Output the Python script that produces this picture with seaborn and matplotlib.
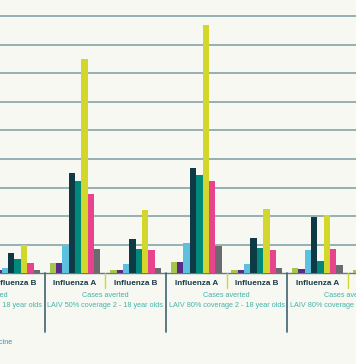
import pandas as pd
import seaborn as sns
import matplotlib.pyplot as plt

# --- data (cases averted in gridline units) ---
slot_flu = ["Influenza B", "Influenza A", "Influenza B", "Influenza A",
            "Influenza B", "Influenza A", "Influenza B"]
scenarios = ["LAIV 30% coverage 2 - 18 year olds",
             "LAIV 50% coverage 2 - 18 year olds",
             "LAIV 80% coverage 2 - 18 year olds",
             "LAIV 80% coverage 2 - 64 year olds"]

series = ["< 2 years", "2 - 4 years", "5 - 10 years", "11 - 18 years",
          "19 - 49 years", "50 - 64 years", "65 - 74 years", "75+ years"]
colours = ["#a6c54b", "#5c2a84", "#5bc1de", "#0d3a45",
           "#00897a", "#d3d72c", "#e8448e", "#6c6971"]

under_2 = [0.10, 0.36, 0.10, 0.38, 0.10, 0.17, 0.10]
age_2_4 = [0.10, 0.36, 0.10, 0.38, 0.10, 0.14, 0.05]
age_5_10 = [0.17, 0.95, 0.31, 1.05, 0.31, 0.80, 0.20]
age_11_18 = [0.70, 3.51, 1.19, 3.67, 1.22, 1.96, 0.50]
age_19_49 = [0.49, 3.22, 0.84, 3.43, 0.87, 0.42, 0.30]
age_50_64 = [0.98, 7.48, 2.20, 8.67, 2.24, 2.03, 0.70]
age_65_74 = [0.35, 2.77, 0.80, 3.22, 0.81, 0.84, 0.30]
age_75 = [0.10, 0.84, 0.17, 0.97, 0.17, 0.28, 0.10]

slots = [str(i) for i in range(len(slot_flu))]
columns = [under_2, age_2_4, age_5_10, age_11_18, age_19_49, age_50_64, age_65_74, age_75]
rows = []
for name, vals in zip(series, columns):
    for s, v in zip(slots, vals):
        rows.append({"slot": s, "group": name, "cases": v})
df = pd.DataFrame(rows)

# --- plot ---
BG = "#f6f8f1"
sns.set_style("white")
plt.rcParams["font.family"] = ["Liberation Sans", "DejaVu Sans"]

fig = plt.figure(figsize=(3.56, 3.64), dpi=100, facecolor=BG)
ax = fig.add_axes([0, 0, 1, 1])
ax.set_facecolor(BG)

# gridlines
for g in range(1, 10):
    ax.axhline(g, color="#86a3aa", linewidth=1.2, zorder=0)
ax.axhline(0, color="#5d7d86", linewidth=1.0, zorder=0)

sns.barplot(data=df, x="slot", y="cases", hue="group", order=slots,
            hue_order=series, palette=colours, width=0.84, saturation=1,
            legend=False, ax=ax, linewidth=0, edgecolor="none")
for p in ax.patches:
    p.set_zorder(3)

# separators between scenarios and between A / B
for xs in [0.5, 2.5, 4.5]:
    ax.plot([xs, xs], [0, -2.05], color="#3f6470", linewidth=1.2, clip_on=False)
for xs in [-0.5, 1.5, 3.5, 5.5]:
    ax.plot([xs, xs], [0, -0.51], color="#d3d72c", linewidth=1.0, clip_on=False)

for i, lab in enumerate(slot_flu):
    ax.text(i, -0.37, lab, ha="center", va="center", fontsize=5.9,
            fontweight="bold", color="#1c3a48")

for k, sc in enumerate(scenarios):
    xc = -0.5 + 2 * k
    ax.text(xc, -0.79, "Cases averted", ha="center", va="center",
            fontsize=5.2, color="#45b3aa")
    ax.text(xc, -1.14, sc, ha="center", va="center", fontsize=5.2,
            color="#45b3aa")

# legend text cut off at the left edge
ax.text(-0.238 + 13 / 60.6, -2.42, "Vaccine", ha="right", va="center",
        fontsize=5.2, color="#3d8fb5")

ax.set_xlim(-0.238, 5.637)
ax.set_ylim(-3.171, 9.556)
ax.set_axis_off()

plt.savefig("out.png", dpi=100, facecolor=BG)
